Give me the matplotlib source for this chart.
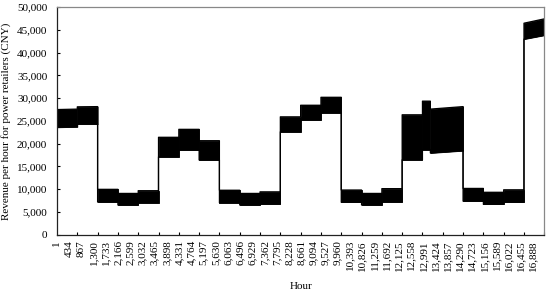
import matplotlib
matplotlib.use('Agg')
import matplotlib.pyplot as plt
import numpy as np
from matplotlib.ticker import FuncFormatter, FixedLocator

# hour segments (start / end) of the revenue band
seg_start = [1, 721, 1441, 2161, 2881, 3601, 4321, 5041, 5761, 6481, 7201, 7921,
             8641, 9361, 10081, 10801, 11521, 12241, 12961, 13241, 14401, 15121, 15841, 16561]
seg_end = seg_start[1:] + [17281]

# lower / upper revenue at start and end of each segment (CNY)
lo_start = [23600, 24300, 7150, 6500, 7000, 17100, 18600, 16400, 7000, 6500, 6700, 22600,
            25200, 26800, 7100, 6500, 7150, 16450, 18650, 17950, 7350, 6650, 7100, 43000]
lo_end = [23700, 24300, 7150, 6500, 7000, 17100, 18600, 16400, 7000, 6500, 6700, 22600,
          25200, 26800, 7100, 6500, 7150, 16450, 18650, 18450, 7350, 6650, 7100, 43850]
hi_start = [27500, 28100, 9950, 9050, 9650, 21400, 23150, 20650, 9750, 9050, 9400, 25900,
            28450, 30200, 9800, 9050, 10100, 26350, 29350, 27600, 10150, 9300, 9850, 46500]
hi_end = [27600, 28150, 9950, 9050, 9650, 21400, 23150, 20650, 9750, 9050, 9400, 25900,
          28450, 30200, 9800, 9050, 10100, 26350, 29350, 28150, 10150, 9300, 9850, 47450]

label_hours = [1, 434, 867, 1300, 1733, 2166, 2599, 3032, 3465, 3898, 4331, 4764, 5197,
               5630, 6063, 6496, 6929, 7362, 7795, 8228, 8661, 9094, 9527, 9960, 10393,
               10826, 11259, 11692, 12125, 12558, 12991, 13424, 13857, 14290, 14723,
               15156, 15589, 16022, 16455, 16888]
mark_hours = seg_start[:18] + [12961, 13681, 14401, 15121, 15841, 16561, 17281]

x = np.ravel(np.column_stack([seg_start, seg_end]))
lo = np.ravel(np.column_stack([lo_start, lo_end]))
hi = np.ravel(np.column_stack([hi_start, hi_end]))

plt.rcParams['font.family'] = ['Liberation Serif', 'DejaVu Serif']

fig = plt.figure(figsize=(5.5, 2.91), dpi=100)
ax = fig.add_axes([0.1036, 0.194, 0.886, 0.781])

# one polygon per segment so no seams show inside the band
for i in range(len(seg_start)):
    ax.fill_between([seg_start[i], seg_end[i]], [lo_start[i], lo_end[i]],
                    [hi_start[i], hi_end[i]], facecolor='k', edgecolor='k', linewidth=0.6)
ax.plot(x, lo, color='k', linewidth=0.9)
ax.plot(x, hi, color='k', linewidth=0.9)

ax.set_xlim(1, 17281)
ax.set_ylim(0, 50000)
ax.set_yticks(np.arange(0, 50001, 5000))
ax.yaxis.set_major_formatter(FuncFormatter(lambda v, p: '{:,.0f}'.format(v)))

ax.xaxis.set_major_locator(FixedLocator(label_hours))
ax.xaxis.set_major_formatter(FuncFormatter(lambda v, p: '{:,.0f}'.format(v)))
ax.xaxis.set_minor_locator(FixedLocator(mark_hours))
ax.tick_params(axis='x', which='major', length=0, labelsize=8, rotation=90, pad=4)
ax.tick_params(axis='x', which='minor', length=2.5, direction='in', width=0.8)
ax.tick_params(axis='y', length=2.5, direction='in', labelsize=8, pad=7, width=0.8)

for s in ['left', 'bottom']:
    ax.spines[s].set_color('#222222')
    ax.spines[s].set_linewidth(0.9)
for s in ['top', 'right']:
    ax.spines[s].set_color('#888888')
    ax.spines[s].set_linewidth(0.9)

ax.set_xlabel('Hour', fontsize=8, labelpad=8)
ax.set_ylabel('Revenue per hour for power retailers (CNY)', fontsize=8, labelpad=4)

fig.savefig('out.png', dpi=100)
